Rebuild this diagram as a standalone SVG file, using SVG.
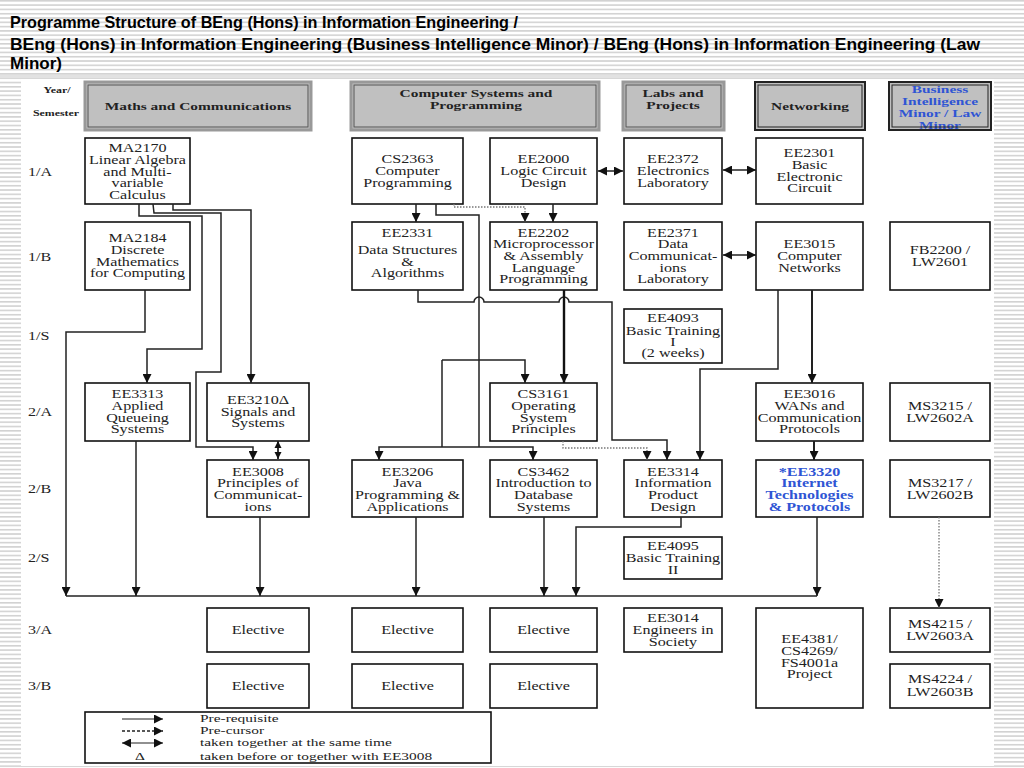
<svg xmlns="http://www.w3.org/2000/svg" width="1024" height="768" viewBox="0 0 1024 768">
<defs>
<pattern id="stripes" width="8" height="4.3" patternUnits="userSpaceOnUse"><rect width="8" height="4.3" fill="#ffffff"/><rect width="8" height="1.6" fill="#d2d2d2"/></pattern>
<marker id="ah" viewBox="0 0 10 10" refX="10" refY="5" markerWidth="9" markerHeight="9" markerUnits="userSpaceOnUse" orient="auto-start-reverse"><path d="M0,0 L10,5 L0,10 z" fill="#111"/></marker>
<marker id="ahs" viewBox="0 0 10 10" refX="10" refY="5" markerWidth="7" markerHeight="8" markerUnits="userSpaceOnUse" orient="auto-start-reverse"><path d="M0,0 L10,5 L0,10 z" fill="#111"/></marker>
</defs>
<style>
.title{font-family:"Liberation Sans Narrow","Liberation Sans",Arial,sans-serif;font-weight:bold;font-size:17px;fill:#000}
.n{fill:#fff;stroke:#111;stroke-width:1.6}
.t{font-family:"Liberation Serif","Times New Roman",serif;font-size:11.5px;text-anchor:middle;fill:#222}
.tb{font-family:"Liberation Serif","Times New Roman",serif;font-size:11px;font-weight:bold;text-anchor:middle;fill:#222}
.blue{fill:#2f55d4;font-weight:bold}
.rl{font-family:"Liberation Serif","Times New Roman",serif;font-size:11.5px;fill:#222}
.ys{font-family:"Liberation Serif","Times New Roman",serif;font-size:8.5px;font-weight:bold;text-anchor:middle;fill:#222}
.lg{font-family:"Liberation Serif","Times New Roman",serif;font-size:11px;fill:#222}
.hd{fill:#c0c0c0;stroke:#999;stroke-width:3}
.hdi{fill:none;stroke:#555;stroke-width:1}
.hdk{fill:#c0c0c0;stroke:#222;stroke-width:2}
.hdki{fill:none;stroke:#222;stroke-width:1}
.c{fill:none;stroke:#222;stroke-width:1.5}
.ca{fill:none;stroke:#222;stroke-width:1.5;marker-end:url(#ah)}
.cw{fill:none;stroke:#111;stroke-width:2.4;marker-end:url(#ah)}
.cd{fill:none;stroke:#777;stroke-width:1.3;stroke-dasharray:1.5 1.5;marker-end:url(#ah)}
.cb{fill:none;stroke:#222;stroke-width:1.5;marker-start:url(#ah);marker-end:url(#ah)}
.cbs{fill:none;stroke:#222;stroke-width:1.8;marker-start:url(#ahs);marker-end:url(#ahs)}
</style>
<rect width="1024" height="768" fill="url(#stripes)"/>
<rect x="0" y="75" width="1024" height="3" fill="#e2e2e2"/>
<rect x="21" y="79" width="973" height="687" fill="#ffffff"/>
<text class="title" x="10" y="28" textLength="508" lengthAdjust="spacingAndGlyphs">Programme Structure of BEng (Hons) in Information Engineering /</text>
<text class="title" x="10" y="50" textLength="970" lengthAdjust="spacingAndGlyphs">BEng (Hons) in Information Engineering (Business Intelligence Minor) / BEng (Hons) in Information Engineering (Law</text>
<text class="title" x="10" y="69" textLength="52" lengthAdjust="spacingAndGlyphs">Minor)</text>

<g id="row-labels">
<text class="ys" transform="translate(57 0) scale(1.4 1)" x="0" y="93">Year/</text>
<text class="ys" transform="translate(56 0) scale(1.4 1)" x="0" y="116">Semester</text>
<text class="rl" transform="translate(28 0) scale(1.4 1)" x="0" y="176">1/A</text>
<text class="rl" transform="translate(28 0) scale(1.4 1)" x="0" y="261">1/B</text>
<text class="rl" transform="translate(28 0) scale(1.4 1)" x="0" y="340">1/S</text>
<text class="rl" transform="translate(28 0) scale(1.4 1)" x="0" y="416">2/A</text>
<text class="rl" transform="translate(28 0) scale(1.4 1)" x="0" y="493">2/B</text>
<text class="rl" transform="translate(28 0) scale(1.4 1)" x="0" y="562">2/S</text>
<text class="rl" transform="translate(28 0) scale(1.4 1)" x="0" y="634">3/A</text>
<text class="rl" transform="translate(28 0) scale(1.4 1)" x="0" y="690">3/B</text>
</g>

<g id="hdr-maths"><rect class="hd" x="85" y="82" width="226" height="48"/><rect class="hdi" x="88" y="85" width="220" height="42"/>
<text class="tb" transform="translate(198 0) scale(1.4 1)" x="0" y="110">Maths and Communications</text></g>
<g id="hdr-cs"><rect class="hd" x="351" y="82" width="248" height="48"/><rect class="hdi" x="354" y="85" width="242" height="42"/>
<text class="tb" transform="translate(476 0) scale(1.4 1)"><tspan x="0" y="97">Computer Systems and</tspan><tspan x="0" y="109">Programming</tspan></text></g>
<g id="hdr-labs"><rect class="hd" x="623" y="82" width="101" height="48"/><rect class="hdi" x="626" y="85" width="95" height="42"/>
<text class="tb" transform="translate(673 0) scale(1.4 1)"><tspan x="0" y="97">Labs and</tspan><tspan x="0" y="109">Projects</tspan></text></g>
<g id="hdr-net"><rect class="hdk" x="755" y="82" width="110" height="48"/><rect class="hdki" x="758" y="85" width="104" height="42"/>
<text class="tb" transform="translate(810 0) scale(1.4 1)" x="0" y="110">Networking</text></g>
<g id="hdr-bi"><rect x="889" y="82" width="102" height="48" fill="#c0c0c0"/>
<text class="tb blue" transform="translate(940 0) scale(1.4 1)"><tspan x="0" y="93">Business</tspan><tspan x="0" y="105">Intelligence</tspan><tspan x="0" y="117">Minor / Law</tspan><tspan x="0" y="129">Minor</tspan></text>
<rect x="889" y="82" width="102" height="48" fill="none" stroke="#222" stroke-width="2"/><rect class="hdki" x="892" y="85" width="96" height="42"/></g>

<g id="ma2170"><rect class="n" x="85" y="138" width="105" height="66"/><text class="t" transform="translate(137.5 0) scale(1.4 1)"><tspan x="0" y="152">MA2170</tspan><tspan x="0" y="164">Linear Algebra</tspan><tspan x="0" y="176">and Multi-</tspan><tspan x="0" y="187">variable</tspan><tspan x="0" y="199">Calculus</tspan></text></g>
<g id="cs2363"><rect class="n" x="352" y="138" width="111" height="66"/><text class="t" transform="translate(407.5 0) scale(1.4 1)"><tspan x="0" y="163">CS2363</tspan><tspan x="0" y="175">Computer</tspan><tspan x="0" y="187">Programming</tspan></text></g>
<g id="ee2000"><rect class="n" x="490" y="138" width="107" height="66"/><text class="t" transform="translate(543.5 0) scale(1.4 1)"><tspan x="0" y="163">EE2000</tspan><tspan x="0" y="175">Logic Circuit</tspan><tspan x="0" y="187">Design</tspan></text></g>
<g id="ee2372"><rect class="n" x="624" y="138" width="98" height="66"/><text class="t" transform="translate(673 0) scale(1.4 1)"><tspan x="0" y="163">EE2372</tspan><tspan x="0" y="175">Electronics</tspan><tspan x="0" y="187">Laboratory</tspan></text></g>
<g id="ee2301"><rect class="n" x="756" y="138" width="107" height="66"/><text class="t" transform="translate(809.5 0) scale(1.4 1)"><tspan x="0" y="157">EE2301</tspan><tspan x="0" y="169">Basic</tspan><tspan x="0" y="181">Electronic</tspan><tspan x="0" y="192">Circuit</tspan></text></g>

<g id="ma2184"><rect class="n" x="85" y="222" width="105" height="68"/><text class="t" transform="translate(137.5 0) scale(1.4 1)"><tspan x="0" y="242">MA2184</tspan><tspan x="0" y="254">Discrete</tspan><tspan x="0" y="266">Mathematics</tspan><tspan x="0" y="277">for Computing</tspan></text></g>
<g id="ee2331"><rect class="n" x="352" y="222" width="111" height="68"/><text class="t" transform="translate(407.5 0) scale(1.4 1)"><tspan x="0" y="237">EE2331</tspan><tspan x="0" y="254">Data Structures</tspan><tspan x="0" y="266">&amp;</tspan><tspan x="0" y="277">Algorithms</tspan></text></g>
<g id="ee2202"><rect class="n" x="490" y="222" width="107" height="68"/><text class="t" transform="translate(543.5 0) scale(1.4 1)"><tspan x="0" y="237">EE2202</tspan><tspan x="0" y="248">Microprocessor</tspan><tspan x="0" y="260">&amp; Assembly</tspan><tspan x="0" y="272">Language</tspan><tspan x="0" y="283">Programming</tspan></text></g>
<g id="ee2371"><rect class="n" x="624" y="222" width="98" height="68"/><text class="t" transform="translate(673 0) scale(1.4 1)"><tspan x="0" y="237">EE2371</tspan><tspan x="0" y="248">Data</tspan><tspan x="0" y="260">Communicat-</tspan><tspan x="0" y="272">ions</tspan><tspan x="0" y="283">Laboratory</tspan></text></g>
<g id="ee3015"><rect class="n" x="756" y="222" width="107" height="68"/><text class="t" transform="translate(809.5 0) scale(1.4 1)"><tspan x="0" y="248">EE3015</tspan><tspan x="0" y="260">Computer</tspan><tspan x="0" y="272">Networks</tspan></text></g>
<g id="fb2200"><rect class="n" x="890" y="222" width="100" height="68"/><text class="t" transform="translate(940 0) scale(1.4 1)"><tspan x="0" y="254">FB2200 /</tspan><tspan x="0" y="266">LW2601</tspan></text></g>

<g id="ee4093"><rect class="n" x="624" y="309" width="98" height="54"/><text class="t" transform="translate(673 0) scale(1.4 1)"><tspan x="0" y="322">EE4093</tspan><tspan x="0" y="335">Basic Training</tspan><tspan x="0" y="346">I</tspan><tspan x="0" y="357">(2 weeks)</tspan></text></g>

<g id="ee3313"><rect class="n" x="85" y="383" width="105" height="58"/><text class="t" transform="translate(137.5 0) scale(1.4 1)"><tspan x="0" y="398">EE3313</tspan><tspan x="0" y="410">Applied</tspan><tspan x="0" y="422">Queueing</tspan><tspan x="0" y="433">Systems</tspan></text></g>
<g id="ee3210"><rect class="n" x="207" y="383" width="102" height="58"/><text class="t" transform="translate(258 0) scale(1.4 1)"><tspan x="0" y="404">EE3210Δ</tspan><tspan x="0" y="416">Signals and</tspan><tspan x="0" y="427">Systems</tspan></text></g>
<g id="cs3161"><rect class="n" x="490" y="383" width="107" height="58"/><text class="t" transform="translate(543.5 0) scale(1.4 1)"><tspan x="0" y="398">CS3161</tspan><tspan x="0" y="410">Operating</tspan><tspan x="0" y="422">System</tspan><tspan x="0" y="433">Principles</tspan></text></g>
<g id="ee3016"><rect class="n" x="756" y="383" width="107" height="58"/><text class="t" transform="translate(809.5 0) scale(1.4 1)"><tspan x="0" y="398">EE3016</tspan><tspan x="0" y="410">WANs and</tspan><tspan x="0" y="422">Communication</tspan><tspan x="0" y="433">Protocols</tspan></text></g>
<g id="ms3215"><rect class="n" x="890" y="383" width="100" height="58"/><text class="t" transform="translate(940 0) scale(1.4 1)"><tspan x="0" y="410">MS3215 /</tspan><tspan x="0" y="422">LW2602A</tspan></text></g>

<g id="ee3008"><rect class="n" x="207" y="460" width="102" height="57"/><text class="t" transform="translate(258 0) scale(1.4 1)"><tspan x="0" y="476">EE3008</tspan><tspan x="0" y="487">Principles of</tspan><tspan x="0" y="499">Communicat-</tspan><tspan x="0" y="511">ions</tspan></text></g>
<g id="ee3206"><rect class="n" x="352" y="460" width="111" height="57"/><text class="t" transform="translate(407.5 0) scale(1.4 1)"><tspan x="0" y="476">EE3206</tspan><tspan x="0" y="487">Java</tspan><tspan x="0" y="499">Programming &amp;</tspan><tspan x="0" y="511">Applications</tspan></text></g>
<g id="cs3462"><rect class="n" x="490" y="460" width="107" height="57"/><text class="t" transform="translate(543.5 0) scale(1.4 1)"><tspan x="0" y="476">CS3462</tspan><tspan x="0" y="487">Introduction to</tspan><tspan x="0" y="499">Database</tspan><tspan x="0" y="511">Systems</tspan></text></g>
<g id="ee3314"><rect class="n" x="624" y="460" width="98" height="57"/><text class="t" transform="translate(673 0) scale(1.4 1)"><tspan x="0" y="476">EE3314</tspan><tspan x="0" y="487">Information</tspan><tspan x="0" y="499">Product</tspan><tspan x="0" y="511">Design</tspan></text></g>
<g id="ee3320"><rect class="n" x="756" y="460" width="107" height="57"/><text class="t blue" transform="translate(809.5 0) scale(1.4 1)"><tspan x="0" y="476">*EE3320</tspan><tspan x="0" y="487">Internet</tspan><tspan x="0" y="499">Technologies</tspan><tspan x="0" y="511">&amp; Protocols</tspan></text></g>
<g id="ms3217"><rect class="n" x="890" y="460" width="100" height="57"/><text class="t" transform="translate(940 0) scale(1.4 1)"><tspan x="0" y="487">MS3217 /</tspan><tspan x="0" y="499">LW2602B</tspan></text></g>

<g id="ee4095"><rect class="n" x="624" y="537" width="98" height="42"/><text class="t" transform="translate(673 0) scale(1.4 1)"><tspan x="0" y="550">EE4095</tspan><tspan x="0" y="562">Basic Training</tspan><tspan x="0" y="574">II</tspan></text></g>

<g id="el-3a-1"><rect class="n" x="207" y="608" width="102" height="44"/><text class="t" transform="translate(258 0) scale(1.4 1)" x="0" y="634">Elective</text></g>
<g id="el-3a-2"><rect class="n" x="352" y="608" width="111" height="44"/><text class="t" transform="translate(407.5 0) scale(1.4 1)" x="0" y="634">Elective</text></g>
<g id="el-3a-3"><rect class="n" x="490" y="608" width="107" height="44"/><text class="t" transform="translate(543.5 0) scale(1.4 1)" x="0" y="634">Elective</text></g>
<g id="ee3014"><rect class="n" x="624" y="608" width="98" height="44"/><text class="t" transform="translate(673 0) scale(1.4 1)"><tspan x="0" y="622">EE3014</tspan><tspan x="0" y="634">Engineers in</tspan><tspan x="0" y="646">Society</tspan></text></g>
<g id="ee4381"><rect class="n" x="756" y="608" width="107" height="100"/><text class="t" transform="translate(809.5 0) scale(1.4 1)"><tspan x="0" y="643">EE4381/</tspan><tspan x="0" y="655">CS4269/</tspan><tspan x="0" y="667">FS4001a</tspan><tspan x="0" y="678">Project</tspan></text></g>
<g id="ms4215"><rect class="n" x="890" y="608" width="100" height="44"/><text class="t" transform="translate(940 0) scale(1.4 1)"><tspan x="0" y="628">MS4215 /</tspan><tspan x="0" y="640">LW2603A</tspan></text></g>

<g id="el-3b-1"><rect class="n" x="207" y="664" width="102" height="44"/><text class="t" transform="translate(258 0) scale(1.4 1)" x="0" y="690">Elective</text></g>
<g id="el-3b-2"><rect class="n" x="352" y="664" width="111" height="44"/><text class="t" transform="translate(407.5 0) scale(1.4 1)" x="0" y="690">Elective</text></g>
<g id="el-3b-3"><rect class="n" x="490" y="664" width="107" height="44"/><text class="t" transform="translate(543.5 0) scale(1.4 1)" x="0" y="690">Elective</text></g>
<g id="ms4224"><rect class="n" x="890" y="664" width="100" height="44"/><text class="t" transform="translate(940 0) scale(1.4 1)"><tspan x="0" y="683">MS4224 /</tspan><tspan x="0" y="696">LW2603B</tspan></text></g>

<g id="connectors">
<path class="c" d="M66,596 H817"/>
<path class="ca" d="M139,204 V216 H202 V349 H147 V383"/>
<path class="ca" d="M153,204 L154,213 H221 V372 H196 V447 H253 V460"/>
<path class="ca" d="M173,204 V210 H251 V383"/>
<path class="ca" d="M145,290 V332 H66 V596"/>
<path class="ca" d="M136,441 V596"/>
<path class="cbs" d="M278,441 V459"/>
<path class="ca" d="M260,517 V596"/>
<path class="ca" d="M416,204 V222"/>
<path class="cd" d="M454,204 V207 H525 V222"/>
<path class="ca" d="M553,204 V222"/>
<path class="c" d="M436,204 V215 H479 V447"/>
<path class="ca" d="M442,360 H525 V383"/>
<path class="c" d="M442,360 V447"/>
<path class="ca" d="M442,447 H379 V460"/>
<path class="ca" d="M442,447 H533 V460"/>
<path class="ca" d="M418,290 V302 H474 A5,5 0 0 1 484,302 H559 A5,5 0 0 1 569,302 H612 V440 H667 V460"/>
<path class="cw" d="M564,290 V383"/>
<path class="cd" d="M563,441 V448 H647 V460"/>
<path class="ca" d="M416,517 V596"/>
<path class="ca" d="M544,517 V596"/>
<path class="ca" d="M681,517 V527 H576 V596"/>
<path class="cb" d="M598,171 H623"/>
<path class="cb" d="M723,170 H756"/>
<path class="cb" d="M723,255 H756"/>
<path class="ca" d="M778,290 V369 H700 V460"/>
<path class="ca" d="M812,290 V383" style="stroke-width:2"/>
<path class="ca" d="M814,441 V460" style="stroke-width:2"/>
<path class="ca" d="M817,517 V596"/>
<path class="cd" d="M939,517 V608"/>
</g>

<g id="legend">
<rect class="n" x="85" y="712" width="406" height="51"/>
<path class="ca" d="M122,719 H163" style="stroke-width:1.2"/>
<path class="cd" d="M122,731 H163" style="stroke:#222;stroke-dasharray:3 2"/>
<path class="cb" d="M122,743 H163" style="stroke-width:1.2"/>
<text class="lg" transform="translate(140 0) scale(1.4 1)" x="0" y="760" text-anchor="middle">Δ</text>
<text class="lg" transform="translate(200 0) scale(1.4 1)"><tspan x="0" y="722">Pre-requisite</tspan><tspan x="0" y="734">Pre-cursor</tspan><tspan x="0" y="746">taken together at the same time</tspan><tspan x="0" y="760">taken before or together with EE3008</tspan></text>
</g>
</svg>
